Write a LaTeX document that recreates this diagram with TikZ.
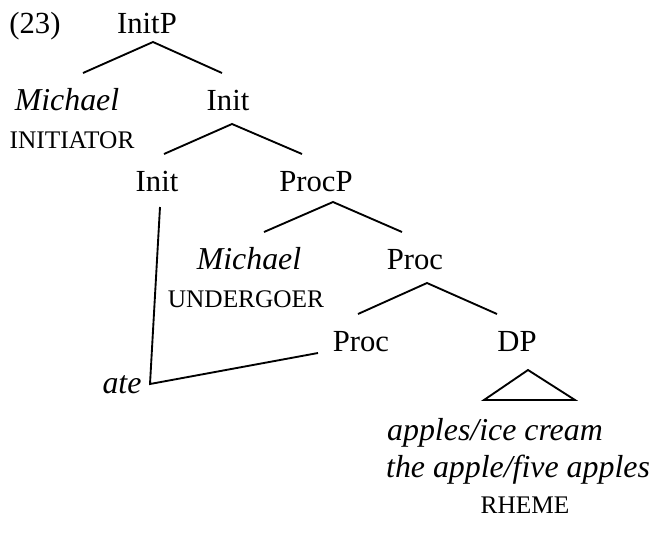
\documentclass[tikz,border=0pt]{standalone}
\usepackage{fontspec}
\setmainfont{Liberation Serif}
\begin{document}
\begin{tikzpicture}[x=0.75pt, y=-0.75pt,
  lbl/.style={anchor=base, inner sep=0pt, font=\fontsize{23}{28}\selectfont},
  term/.style={lbl, font=\fontsize{23.9}{29}\selectfont\itshape},
  role/.style={anchor=base, inner sep=0pt, font=\fontsize{19}{23}\selectfont},
  branch/.style={draw=black, line width=1.4pt, line join=miter}]
\useasboundingbox (0,0) rectangle (651,533);

% labels
\node[lbl]  (ex)     at (35,33)   {(23)};
\node[lbl]  (initP)  at (147,33)  {InitP};
\node[term] (mich1)  at (67,110)  {Michael};
\node[lbl]  (init1)  at (228,110) {Init};
\node[role] (initr)  at (72,148)  {INITIATOR};
\node[lbl]  (init2)  at (157,191) {Init};
\node[lbl]  (procP)  at (316,191) {ProcP};
\node[term] (mich2)  at (249,269) {Michael};
\node[lbl]  (proc1)  at (415,269) {Proc};
\node[role] (undr)   at (246,307) {UNDERGOER};
\node[lbl]  (proc2)  at (361,351) {Proc};
\node[lbl]  (dp)     at (517,351) {DP};
\node[term] (ate)    at (122,393) {ate};
\node[term] (app1)   at (495,440) {apples/ice cream};
\node[term] (app2)   at (518,477) {the apple/five apples};
\node[role] (rheme)  at (525,513) {RHEME};

% branches
\draw[branch] ([shift={(16,-37)}]mich1.base) -- ([shift={(6,9)}]initP.base)
              -- ([shift={(-6,-37)}]init1.base);
\draw[branch] ([shift={(7,-37)}]init2.base) -- ([shift={(4,14)}]init1.base)
              -- ([shift={(-14,-37)}]procP.base);
\draw[branch] ([shift={(15,-37)}]mich2.base) -- ([shift={(17,11)}]procP.base)
              -- ([shift={(-13,-37)}]proc1.base);
\draw[branch] ([shift={(-3,-37)}]proc2.base) -- ([shift={(12,14)}]proc1.base)
              -- ([shift={(-20,-37)}]dp.base);

% triangle over the DP
\draw[branch] ([shift={(11,19)}]dp.base) -- ([shift={(-11,-40)}]app1.base)
              -- ([shift={(80,-40)}]app1.base) -- cycle;

% head movement line linking Init and Proc through "ate"
\draw[branch] ([shift={(3,16)}]init2.base) -- ([shift={(28,-9)}]ate.base)
              -- ([shift={(-43,2)}]proc2.base);
\end{tikzpicture}
\end{document}
